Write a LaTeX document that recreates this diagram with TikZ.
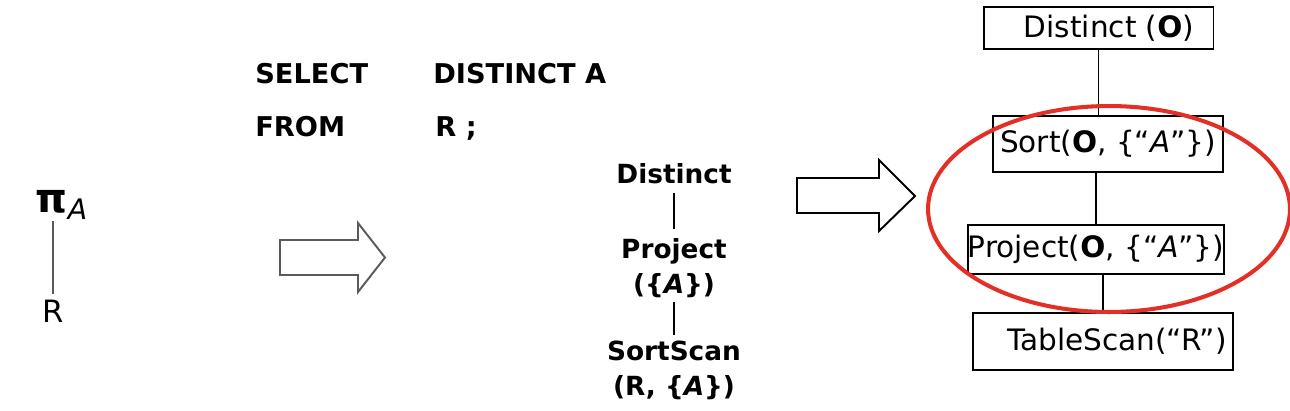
\documentclass[tikz,border=0pt]{standalone}
\usepackage{fontspec}
\setmainfont{DejaVu Sans}
\usepackage{xcolor}
\definecolor{Col1}{RGB}{226,48,38}
\definecolor{Col2}{RGB}{90,90,90}
\usepackage{tikz}
\usetikzlibrary{shapes}
\tikzstyle{Box}=[rectangle,draw=black,line width=1.1pt,inner sep=0pt,
font=\fontsize{16.8}{19}\selectfont]
\tikzstyle{Edge}=[draw=black,line width=1.1pt]
\tikzstyle{OpST}=[font=\fontsize{15}{20}\selectfont\bfseries,align=center,
inner sep=1pt]
\tikzstyle{SqlST}=[font=\fontsize{15.5}{19}\selectfont\bfseries,
anchor=base west,inner sep=0pt]
\tikzstyle{Hollow}=[draw,line width=1.1pt,line join=miter,fill=white]
\tikzstyle{Ring}=[draw=Col1,line width=2.3pt]

\begin{document}
\begin{tikzpicture}[x=0.02cm,y=-0.02cm]
        \useasboundingbox(0,0)rectangle(1290,410);
        % algebra
        \node[font=\fontsize{23}{25}\selectfont,inner sep=1pt](pi)at(62,205)
            {\textbf{π}\textsubscript{\textit{A}}};
        \node[font=\fontsize{17.5}{20}\selectfont](r)at(53,311){R};
        \draw[Edge,draw=Col2](r.north|-pi.south)--(r);
        \draw[Hollow,draw=Col2](280,240)--(358,240)--(358,223)--(385,257.5)
            --(358,292)--(358,275)--(280,275)--cycle;
        % query
        \node[SqlST](sel)at(255,83){SELECT};
        \node[SqlST](dis)at(433,83){DISTINCT A};
        \node[SqlST](frm)at(255,136){FROM};
        \node[SqlST](rel)at(435,136){R ;};
        % logical plan
        \node[OpST](1)at(674,174){Distinct};
        \node[OpST](2)at(674,268){Project\\(\{\textit{A}\})};
        \node[OpST](3)at(674,370){SortScan\\(R, \{\textit{A}\})};
        \draw[Edge,shorten <=4pt,shorten >=4pt](1)--(2);
        \draw[Edge,shorten <=1pt,shorten >=2pt](2)--(3);
        \draw[Hollow](797,178)--(879,178)--(879,160)--(915,196)
            --(879,231)--(879,213)--(797,213)--cycle;
        % physical plan
        \node[Box,minimum width=4.6cm,minimum height=0.84cm](d)at(1098.5,28)
            {\hspace{0.42cm}Distinct (\textbf{O})};
        \node[Box,minimum width=4.6cm,minimum height=1.12cm](s)at(1108,144)
            {Sort(\textbf{O}, \{“\textit{A}”\})};
        \node[Box,minimum width=5.08cm,minimum height=0.98cm](p)at(1096,249.5)
            {Project(\textbf{O}, \{“\textit{A}”\})};
        \node[Box,minimum width=5.2cm,minimum height=1.14cm](t)at(1103,341.5)
            {\hspace{0.56cm}TableScan(“R”)};
        \draw[Edge](d.south)--(d.south|-s.north);
        \draw[Edge](p.north|-s.south)--(p.north);
        \draw[Edge](t.north|-p.south)--(t.north);
        \draw[Ring](1109,209)ellipse[x radius=3.62cm,y radius=2.06cm];
    \end{tikzpicture}
\end{document}
